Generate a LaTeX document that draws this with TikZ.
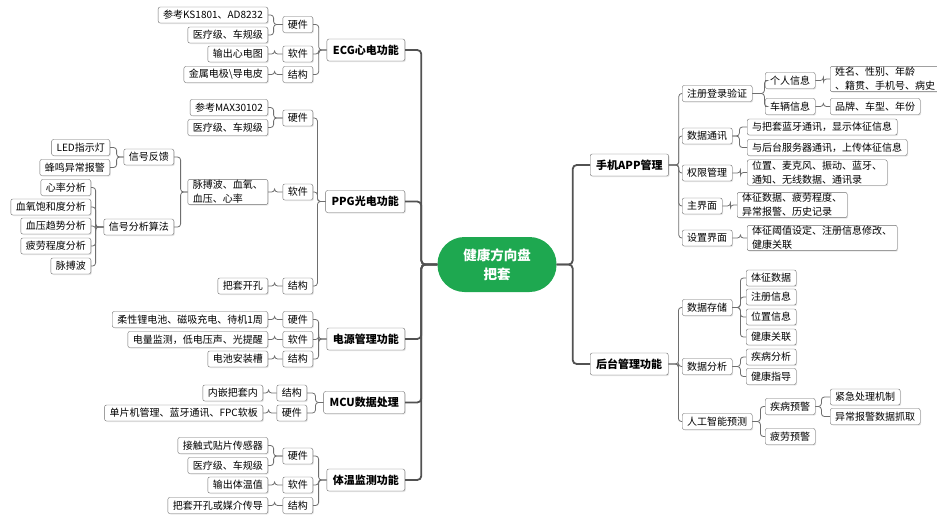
\documentclass[tikz,border=0pt]{standalone}
\usepackage{fontspec}
\setmainfont{Noto Sans CJK SC}
\usetikzlibrary{shadows}
\definecolor{hubgreen}{RGB}{30,168,80}
\definecolor{linegray}{RGB}{110,110,110}
\tikzset{box/.style={draw=linegray, fill=white, rounded corners=2pt,
        font=\fontsize{10}{14}\selectfont, align=left,
        inner xsep=5pt, inner ysep=1pt, minimum height=16pt,
        drop shadow={shadow xshift=1pt, shadow yshift=-1pt, opacity=0.2}},
    lbox/.style={box, anchor=east},
    rbox/.style={box, anchor=west},
    main/.style={box, font=\fontsize{11}{13}\selectfont\bfseries,
        minimum height=22pt, inner xsep=6pt},
    hub/.style={fill=hubgreen, text=white, rounded corners=27pt,
        font=\fontsize{13.5}{19}\selectfont\bfseries, align=center,
        minimum width=119pt, minimum height=55pt},
    link/.style={draw=linegray, line width=0.8pt, rounded corners=3pt},
    trunk/.style={draw=black!68, line width=1.8pt, rounded corners=4pt},
    }
\newcommand{\lk}[3][8]{\draw[link] (#2.west) -- ++(-#1,0) |- (#3.east);}
\newcommand{\rk}[3][8]{\draw[link] (#2.east) -- ++(#1,0) |- (#3.west);}

\begin{document}
\begin{tikzpicture}[x=1pt,y=-1pt]
	\useasboundingbox (0,0) rectangle (937,515);
	\node[hub] (hub) at (497,264.5) {健康方向盘\\把套};
	% left side
	\node[main,anchor=east] (ecg) at (405,50) {ECG心电功能};
	\node[main,anchor=east] (ppg) at (405,201.5) {PPG光电功能};
	\node[main,anchor=east] (pwr) at (405,339) {电源管理功能};
	\node[main,anchor=east] (mcu) at (405,402.5) {MCU数据处理};
	\node[main,anchor=east] (tmp) at (405,480) {体温监测功能};
	\foreach \m in {ecg,ppg,pwr,mcu,tmp}
		\draw[trunk] (hub.west) -- ++(-16,0) |- (\m.east);
	%ECG
	\node[lbox] (ecgH) at (313,24.5) {硬件};
	\node[lbox] (ecgS) at (313,54) {软件};
	\node[lbox] (ecgJ) at (313,74.5) {结构};
	\node[lbox] (ecgH1) at (268,15) {参考KS1801、AD8232};
	\node[lbox] (ecgH2) at (268,35) {医疗级、车规级};
	\node[lbox] (ecgS1) at (268,54) {输出心电图};
	\node[lbox] (ecgJ1) at (268,74.5) {金属电极\textbackslash 导电皮};
	\lk{ecg}{ecgH} \lk{ecg}{ecgS} \lk{ecg}{ecgJ}
	\lk[9]{ecgH}{ecgH1} \lk[9]{ecgH}{ecgH2}
	\lk{ecgS}{ecgS1} \lk{ecgJ}{ecgJ1}
	%PPG
	\node[lbox] (ppgH) at (313,118) {硬件};
	\node[lbox] (ppgS) at (313,192) {软件};
	\node[lbox] (ppgJ) at (313,286) {结构};
	\node[lbox] (ppgH1) at (268,107.5) {参考MAX30102};
	\node[lbox] (ppgH2) at (268,127.5) {医疗级、车规级};
	\node[lbox] (ppgS1) at (268,192) {脉搏波、血氧、\\血压、心率};
	\node[lbox] (ppgJ1) at (268,286) {把套开孔};
	\node[lbox] (fb) at (174,157) {信号反馈};
	\node[lbox] (alg) at (174,227) {信号分析算法};
	\node[lbox] (fb1) at (110,147.5) {LED指示灯};
	\node[lbox] (fb2) at (110,167.5) {蜂鸣异常报警};
	\node[lbox] (alg1) at (91,187.5) {心率分析};
	\node[lbox] (alg2) at (91,207) {血氧饱和度分析};
	\node[lbox] (alg3) at (91,226) {血压趋势分析};
	\node[lbox] (alg4) at (91,246) {疲劳程度分析};
	\node[lbox] (alg5) at (91,266) {脉搏波};
	\lk{ppg}{ppgH} \lk{ppg}{ppgS} \lk{ppg}{ppgJ}
	\lk[9]{ppgH}{ppgH1} \lk[9]{ppgH}{ppgH2}
	\lk{ppgS}{ppgS1} \lk{ppgJ}{ppgJ1}
	\lk[7]{ppgS1}{fb} \lk[7]{ppgS1}{alg}
	\lk[7]{fb}{fb1} \lk[7]{fb}{fb2}
	\foreach \a in {alg1,alg2,alg3,alg4,alg5} {\lk{alg}{\a}}
	%power
	\node[lbox] (pwrH) at (313,319.5) {硬件};
	\node[lbox] (pwrS) at (313,339.5) {软件};
	\node[lbox] (pwrJ) at (313,359) {结构};
	\node[lbox] (pwrH1) at (268,319.5) {柔性锂电池、磁吸充电、待机1周};
	\node[lbox] (pwrS1) at (268,339.5) {电量监测，低电压声、光提醒};
	\node[lbox] (pwrJ1) at (268,359) {电池安装槽};
	\lk{pwr}{pwrH} \lk{pwr}{pwrS} \lk{pwr}{pwrJ}
	\lk{pwrH}{pwrH1} \lk{pwrS}{pwrS1} \lk{pwrJ}{pwrJ1}
	%MCU
	\node[lbox] (mcuJ) at (307,393) {结构};
	\node[lbox] (mcuH) at (307,413) {硬件};
	\node[lbox] (mcuJ1) at (263,393) {内嵌把套内};
	\node[lbox] (mcuH1) at (263,413) {单片机管理、蓝牙通讯、FPC软板};
	\lk{mcu}{mcuJ} \lk{mcu}{mcuH}
	\lk{mcuJ}{mcuJ1} \lk{mcuH}{mcuH1}
	%temperature
	\node[lbox] (tmpH) at (313,456) {硬件};
	\node[lbox] (tmpS) at (313,485) {软件};
	\node[lbox] (tmpJ) at (313,505.5) {结构};
	\node[lbox] (tmpH1) at (268,445.5) {接触式贴片传感器};
	\node[lbox] (tmpH2) at (268,465.5) {医疗级、车规级};
	\node[lbox] (tmpS1) at (268,485) {输出体温值};
	\node[lbox] (tmpJ1) at (268,505.5) {把套开孔或媒介传导};
	\lk{tmp}{tmpH} \lk{tmp}{tmpS} \lk{tmp}{tmpJ}
	\lk[9]{tmpH}{tmpH1} \lk[9]{tmpH}{tmpH2}
	\lk{tmpS}{tmpS1} \lk{tmpJ}{tmpJ1}
	% right side
	\node[main,anchor=west] (app) at (590,165) {手机APP管理};
	\node[main,anchor=west] (bg) at (590,364) {后台管理功能};
	\draw[trunk] (hub.east) -- ++(16,0) |- (app.west);
	\draw[trunk] (hub.east) -- ++(16,0) |- (bg.west);
	%app
	\node[rbox] (reg) at (682,93.5) {注册登录验证};
	\node[rbox] (com) at (682,136) {数据通讯};
	\node[rbox] (perm) at (682,173) {权限管理};
	\node[rbox] (ui) at (682,206) {主界面};
	\node[rbox] (set) at (682,238) {设置界面};
	\node[rbox] (per) at (765,80.5) {个人信息};
	\node[rbox] (car) at (765,106.5) {车辆信息};
	\node[rbox] (per1) at (830,79) {姓名、性别、年龄\\、籍贯、手机号、病史};
	\node[rbox] (car1) at (830,106.5) {品牌、车型、年份};
	\node[rbox] (com1) at (747,127) {与把套蓝牙通讯，显示体征信息};
	\node[rbox] (com2) at (747,147.5) {与后台服务器通讯，上传体征信息};
	\node[rbox] (perm1) at (747,172.5) {位置、麦克风、振动、蓝牙、\\通知、无线数据、通讯录};
	\node[rbox] (ui1) at (737,205) {体征数据、疲劳程度、\\异常报警、历史记录};
	\node[rbox] (set1) at (747,238) {体征阈值设定、注册信息修改、\\健康关联};
	\foreach \a in {reg,com,perm,ui,set} {\rk[10]{app}{\a}}
	\rk[12]{reg}{per} \rk[12]{reg}{car}
	\rk{per}{per1} \rk{car}{car1}
	\rk[7]{com}{com1} \rk[7]{com}{com2}
	\rk{perm}{perm1} \rk{ui}{ui1} \rk{set}{set1}
	%backend
	\node[rbox] (store) at (682,307.5) {数据存储};
	\node[rbox] (ana) at (682,366.5) {数据分析};
	\node[rbox] (ai) at (682,421.5) {人工智能预测};
	\node[rbox] (st1) at (746,278) {体征数据};
	\node[rbox] (st2) at (746,297) {注册信息};
	\node[rbox] (st3) at (746,317) {位置信息};
	\node[rbox] (st4) at (746,337) {健康关联};
	\node[rbox] (an1) at (746,357) {疾病分析};
	\node[rbox] (an2) at (746,376.5) {健康指导};
	\node[rbox] (ai1) at (765,406.5) {疾病预警};
	\node[rbox] (ai2) at (765,436.5) {疲劳预警};
	\node[rbox] (ai11) at (830,397) {紧急处理机制};
	\node[rbox] (ai12) at (830,416.5) {异常报警数据抓取};
	\foreach \a in {store,ana,ai} {\rk[10]{bg}{\a}}
	\foreach \a in {st1,st2,st3,st4} {\rk{store}{\a}}
	\rk{ana}{an1} \rk{ana}{an2}
	\rk{ai}{ai1} \rk{ai}{ai2}
	\rk[6]{ai1}{ai11} \rk[6]{ai1}{ai12}
\end{tikzpicture}
\end{document}
